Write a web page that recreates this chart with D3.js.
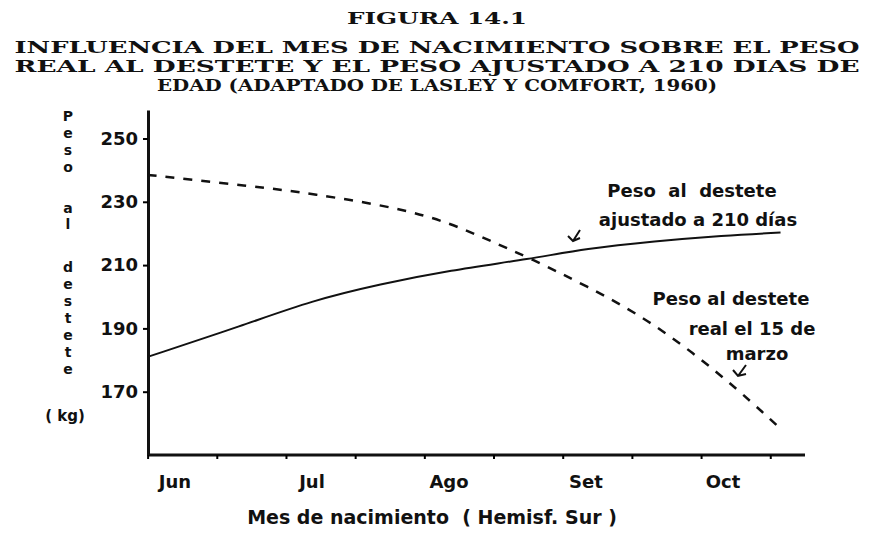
<!DOCTYPE html><html><head><meta charset="utf-8"><script src="https://cdn.jsdelivr.net/npm/d3@7"></script>
<style>body{margin:0;background:#fff}</style></head><body><svg id="c" width="875" height="537"></svg>
<script>
const months=["Jun","Jul","Ago","Set","Oct"];
const yTicks=[170,190,210,230,250];
const adjX=[-0.2,0.5,1,1.5,2,2.6,3,3.5,4,4.42];
const adjY=[181,191,198.8,204,208.3,212,215.2,217.5,219.3,220.3];
const realX=[-0.2,0.55,1,1.64,2,2.3,2.6,3,3.47,4,4.42];
const realY=[238.5,235,232.6,228,223.4,217.7,212,203.5,192.5,175,158.3];
const svg=d3.select("#c");
const x=d3.scaleLinear().domain([0,4]).range([175,723]);
const y=d3.scaleLinear().domain([150,259]).range([455,110]);
const ink="#111";
const title=(t,yv,len)=>svg.append("text").attr("x",437).attr("y",yv).attr("text-anchor","middle").attr("font-family","DejaVu Serif").attr("font-weight","bold").attr("font-size",16).attr("fill",ink).attr("textLength",len).attr("lengthAdjust","spacingAndGlyphs").text(t);
title("FIGURA  14.1",24,180);
title("INFLUENCIA DEL MES DE NACIMIENTO SOBRE EL PESO",53,845);
title("REAL AL DESTETE Y EL PESO AJUSTADO A 210 DIAS DE",72,845);
title("EDAD (ADAPTADO DE LASLEY Y COMFORT, 1960)",91,560);
const ya=svg.append("g").attr("transform","translate(148,0)").call(d3.axisLeft(y).tickValues(yTicks).tickSize(5).tickSizeOuter(0));
ya.select(".domain").attr("stroke-width",3).attr("stroke",ink);
ya.selectAll("text").attr("font-family","DejaVu Sans").attr("font-weight","bold").attr("font-size",18).attr("fill",ink).attr("dx",-2);
ya.selectAll("line").attr("stroke-width",2);
const xa=svg.append("g").attr("transform","translate(0,455)").call(d3.axisBottom(x).tickValues(d3.range(-0.2,4.6,0.505)).tickSize(4).tickSizeOuter(0).tickFormat(""));
xa.select(".domain").attr("d","M148,0H805").attr("stroke-width",3).attr("stroke",ink);
xa.selectAll("line").attr("stroke-width",2);
months.forEach((m,i)=>svg.append("text").attr("x",x(i)).attr("y",488).attr("text-anchor","middle").attr("font-family","DejaVu Sans").attr("font-weight","bold").attr("font-size",18).attr("fill",ink).text(m));
svg.append("text").attr("x",432).attr("y",524).attr("text-anchor","middle").attr("font-family","DejaVu Sans").attr("font-weight","bold").attr("font-size",19).attr("fill",ink).attr("xml:space","preserve").text("Mes de nacimiento  ( Hemisf. Sur )");
const ys=[121,138,155,172,213,229,272,289,306,323,340,357,374];
"Pesoaldestete".split("").forEach((ch,i)=>svg.append("text").attr("x",68).attr("y",ys[i]).attr("text-anchor","middle").attr("font-family","DejaVu Sans").attr("font-weight","bold").attr("font-size",14).attr("fill",ink).text(ch));
svg.append("text").attr("x",65).attr("y",421).attr("text-anchor","middle").attr("font-family","DejaVu Sans").attr("font-weight","bold").attr("font-size",15).attr("fill",ink).attr("xml:space","preserve").text("( kg)");
const line=d3.line().curve(d3.curveBasis).x(d=>x(d[0])).y(d=>y(d[1]));
svg.append("path").attr("d",line(adjX.map((v,i)=>[v,adjY[i]]))).attr("fill","none").attr("stroke",ink).attr("stroke-width",2);
svg.append("path").attr("d",line(realX.map((v,i)=>[v,realY[i]]))).attr("fill","none").attr("stroke",ink).attr("stroke-width",2.5).attr("stroke-dasharray","9,9");
const tx=(t,xx,yv)=>svg.append("text").attr("x",xx).attr("y",yv).attr("text-anchor","middle").attr("font-family","DejaVu Sans").attr("font-weight","bold").attr("font-size",18).attr("fill",ink).attr("xml:space","preserve").text(t);
tx("Peso  al  destete",692,197);tx("ajustado a 210 días",698,226);
tx("Peso al destete",731,305);tx("real el 15 de",752,335);tx("marzo",757,360);
svg.append("path").attr("d","M580,230 L573,241 M568,236 L573,241 L580,238").attr("fill","none").attr("stroke",ink).attr("stroke-width",2);
svg.append("path").attr("d","M746,365 L738,376 M733,370 L738,376 L746,374").attr("fill","none").attr("stroke",ink).attr("stroke-width",2);
</script></body></html>
